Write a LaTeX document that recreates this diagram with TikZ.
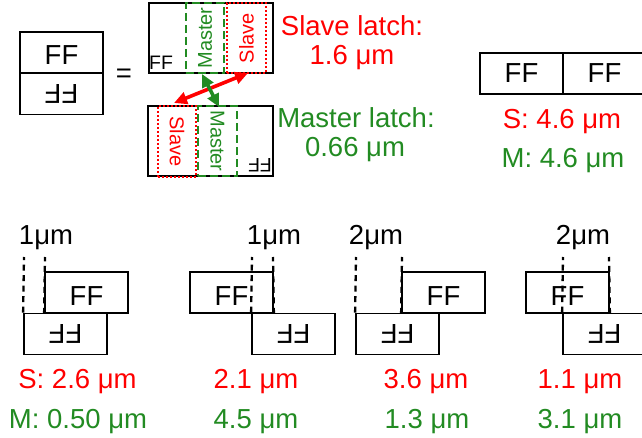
\documentclass[tikz,border=0pt]{standalone}
\usepackage{fontspec}
\setmainfont{Liberation Sans}
\usetikzlibrary{arrows.meta}
\definecolor{fgreen}{RGB}{34,139,34}
\definecolor{fred}{RGB}{255,0,0}
\begin{document}
\begin{tikzpicture}[x=1pt,y=-1pt,
  big/.style={font=\fontsize{27.5}{32}\selectfont},
  small/.style={font=\fontsize{19.5}{22}\selectfont},
  vtext/.style={font=\fontsize{20}{22}\selectfont},
  box/.style={draw, line width=1.8pt, minimum width=83pt, minimum height=41pt, inner sep=0pt, big},
  upbox/.style={box, text height=25pt, text depth=0pt},
  lowbox/.style={box, rotate=180},
  cellbox/.style={draw, line width=1.8pt, inner sep=0pt},
  mbox/.style={draw=fgreen, line width=2.5pt, dash pattern=on 8pt off 4pt, inner sep=0pt},
  sbox/.style={draw=fred, line width=2.5pt, dash pattern=on 2pt off 2pt, inner sep=0pt},
  guide/.style={line width=2.3pt, dash pattern=on 6pt off 4.5pt},
  lbl/.style={big, anchor=base, inner sep=0pt},
  dbl/.style={line width=3.6pt, {Triangle[length=13pt,width=12pt]}-{Triangle[length=13pt,width=12pt]}}
]
\clip (0,0) rectangle (642,438);
\useasboundingbox (0,0) rectangle (642,438);

% left FF cell
\node[upbox] (ffa) at (61.5,52.5) {FF};
\node[lowbox] (ffb) at (61.5,94) {FF};
\node[big] (eq) at (124,76) {=};

% top cell (normal)
\node[cellbox, minimum width=124pt, minimum height=70pt] (cellA) at (211,38) {};
\node[mbox, minimum width=38pt, minimum height=70pt] (mA) at (205,38) {};
\node[sbox, minimum width=39pt, minimum height=70pt] (sA) at (246.5,38) {};
\node[vtext, text=fgreen, rotate=90] (mAt) at (mA) {Master};
\node[vtext, text=fred, rotate=90] (sAt) at (sA) {Slave};
\node[small, inner sep=0pt] (ffA) at (161,62.5) {FF};

% bottom cell (flipped)
\node[cellbox, minimum width=125pt, minimum height=70pt] (cellB) at (210.5,141) {};
\node[sbox, minimum width=38pt, minimum height=71pt] (sB) at (177,141.5) {};
\node[mbox, minimum width=39pt, minimum height=70pt] (mB) at (217.5,141) {};
\node[vtext, text=fred, rotate=-90] (sBt) at (sB) {Slave};
\node[vtext, text=fgreen, rotate=-90] (mBt) at (mB) {Master};
\node[small, inner sep=0pt, rotate=180] (ffB) at (260,165) {FF};

% arrows
\coordinate (ra) at (174,103);
\coordinate (rb) at (248,73);
\coordinate (ga) at (202,74);
\coordinate (gb) at (219,107);
\draw[dbl, fred] (ra) -- (rb);
\draw[dbl, fgreen] (ga) -- (gb);

% latch labels
\node[lbl, text=fred] (sl1) at (352,36) {Slave latch:};
\node[lbl, text=fred] (sl2) at (352,65) {1.6 μm};
\node[lbl, text=fgreen] (ml1) at (356,128) {Master latch:};
\node[lbl, text=fgreen] (ml2) at (355,157) {0.66 μm};

% right side-by-side
\node[box] (rA) at (521.5,73.5) {FF};
\node[box] (rB) at (604.5,73.5) {FF};
\node[lbl, text=fred] (rS) at (562,129) {S: 4.6 μm};
\node[lbl, text=fgreen] (rM) at (563,168) {M: 4.6 μm};

% group 1
\node[upbox] (g1u) at (86.5,292.5) {FF};
\node[lowbox] (g1l) at (65.5,334) {FF};
\coordinate (g1a) at (24,257);
\coordinate (g1b) at (45,257);
\draw[guide] (g1l.south east) -- (g1a);
\draw[guide] (g1u.south west) -- (g1b);
\node[lbl] (g1t) at (46,245) {1μm};
\node[lbl, text=fred] (g1s) at (77.5,388) {S: 2.6 μm};
\node[lbl, text=fgreen] (g1m) at (78,428) {M: 0.50 μm};

% group 2
\node[upbox] (g2u) at (231.5,292.5) {FF};
\node[lowbox] (g2l) at (293.5,334) {FF};
\coordinate (g2a) at (252,257);
\coordinate (g2b) at (273,257);
\draw[guide] (g2l.south east) -- (g2a);
\draw[guide] (g2u.south east) -- (g2b);
\node[lbl] (g2t) at (274,245) {1μm};
\node[lbl, text=fred] (g2s) at (256,388) {2.1 μm};
\node[lbl, text=fgreen] (g2m) at (256,428) {4.5 μm};

% group 3
\node[upbox] (g3u) at (443.5,292.5) {FF};
\node[lowbox] (g3l) at (397.5,334) {FF};
\coordinate (g3a) at (356,257);
\coordinate (g3b) at (402,257);
\draw[guide] (g3l.south east) -- (g3a);
\draw[guide] (g3u.south west) -- (g3b);
\node[lbl] (g3t) at (376,245) {2μm};
\node[lbl, text=fred] (g3s) at (426,388) {3.6 μm};
\node[lbl, text=fgreen] (g3m) at (427,428) {1.3 μm};

% group 4
\node[upbox] (g4u) at (567.5,292.5) {FF};
\node[lowbox] (g4l) at (604.5,334) {FF};
\coordinate (g4a) at (563,257);
\coordinate (g4b) at (609,257);
\draw[guide] (g4l.south east) -- (g4a);
\draw[guide] (g4u.south east) -- (g4b);
\node[lbl] (g4t) at (583,245) {2μm};
\node[lbl, text=fred] (g4s) at (580,388) {1.1 μm};
\node[lbl, text=fgreen] (g4m) at (580,428) {3.1 μm};
\end{tikzpicture}
\end{document}
